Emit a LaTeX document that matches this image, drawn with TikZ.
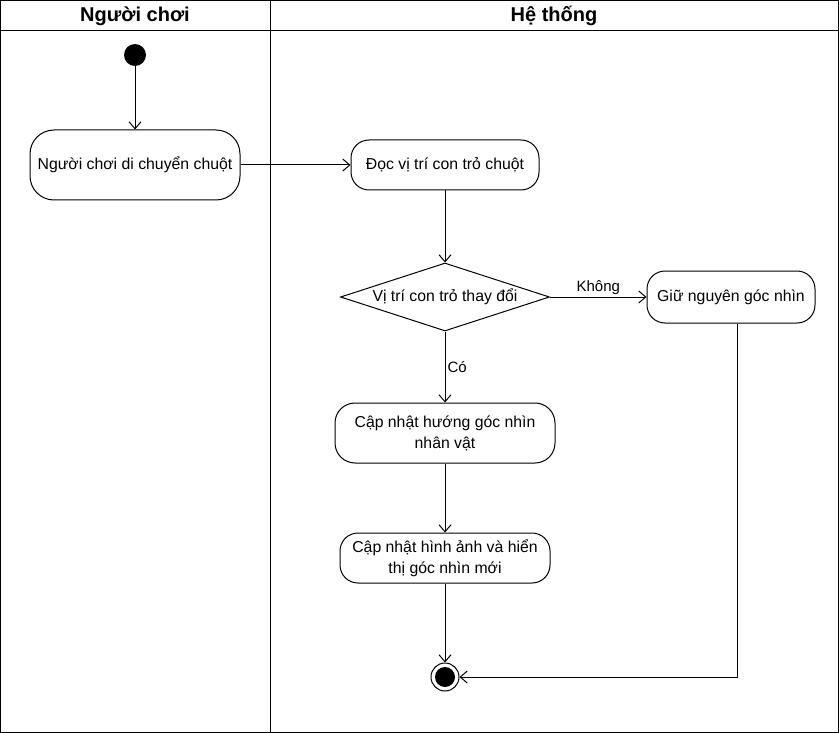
\documentclass[tikz,border=0pt]{standalone}
\usepackage{fontspec}
\setmainfont{Liberation Sans}
\usetikzlibrary{arrows.meta,shapes.geometric}
\begin{document}
\begin{tikzpicture}[x=1pt,y=-1pt,
  act/.style={draw, line width=1pt, rounded corners=18pt, align=center,
    font=\fontsize{15.8}{21}\selectfont, inner sep=0pt},
  flow/.style={draw, line width=1pt, -{Straight Barb[length=7pt,width=12pt,line width=1pt]}},
  lab/.style={font=\fontsize{15}{17}\selectfont, inner sep=2pt},
  head/.style={font=\bfseries\fontsize{20}{24}\selectfont},
  lane/.style={line width=1pt}]
\useasboundingbox (0,0) rectangle (839,733);
% swimlanes
\draw[lane] (0.5,0.5) rectangle (838.5,732.5);
\draw[lane] (0,30.5) -- (839,30.5);
\draw[lane] (270.5,0) -- (270.5,733);
\node[head] (h1) at (135,16) {Người chơi};
\node[head] (h2) at (554,16) {Hệ thống};
% nodes
\node[circle, fill=black, minimum size=22pt, inner sep=0pt] (start) at (135,55) {};
\node[act, minimum width=210pt, minimum height=70pt, rounded corners=24pt] (n1) at (135,165) {Người chơi di chuyển chuột};
\node[act, minimum width=188pt, minimum height=50pt] (n2) at (445,165) {Đọc vị trí con trỏ chuột};
\node[draw, line width=1pt, diamond, aspect=3, inner sep=0pt, minimum width=209pt, minimum height=68pt,
  font=\fontsize{15.8}{19}\selectfont] (dec) at (445,297) {Vị trí con trỏ thay đổi};
\node[act, minimum width=168pt, minimum height=52pt] (n3) at (731,297) {Giữ nguyên góc nhìn};
\node[act, minimum width=220pt, minimum height=60pt, rounded corners=20pt] (n4) at (445,433) {Cập nhật hướng góc nhìn\\nhân vật};
\node[act, minimum width=210pt, minimum height=50pt] (n5) at (445,558) {Cập nhật hình ảnh và hiển\\thị góc nhìn mới};
\node[circle, draw, line width=1pt, minimum size=28pt, inner sep=0pt] (end) at (445,677) {};
\node[circle, fill=black, minimum size=20pt, inner sep=0pt] (endin) at (end.center) {};
% connectors
\draw[flow] (start) -- (n1);
\draw[flow] (n1) -- (n2);
\draw[flow] (n2) -- (dec);
\draw[flow] (dec) -- node[lab, above] {Không} (n3);
\draw[flow] (dec) -- node[lab, right] {Có} (n4);
\draw[flow] (n4) -- (n5);
\draw[flow] (n5) -- (end);
\coordinate (c3) at ([xshift=6pt]n3.south);
\draw[flow] (c3) |- (end.east);
\end{tikzpicture}
\end{document}
